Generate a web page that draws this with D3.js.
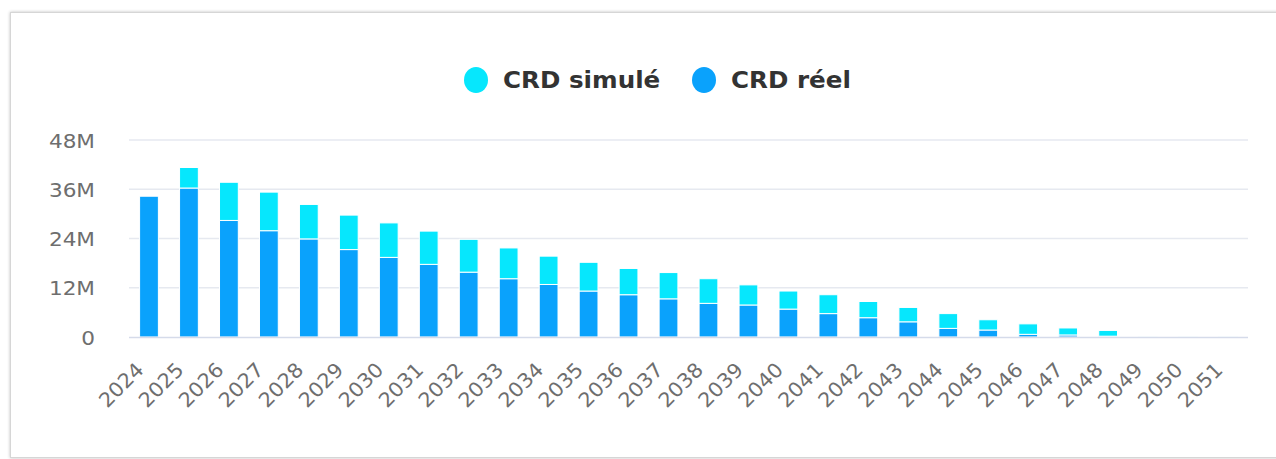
<!DOCTYPE html>
<html>
<head>
<meta charset="utf-8">
<script src="https://cdn.jsdelivr.net/npm/d3@7"></script>
<style>
  body { margin: 0; background: #fff; font-family: "DejaVu Sans", sans-serif; }
  .card { position: absolute; left: 10px; top: 12px; width: 1300px; height: 444px;
          border: 1px solid #d6d6d6; box-shadow: 0 0 3px rgba(0,0,0,0.25); background: #fff; }
  svg { position: absolute; left: 0; top: 0; }
</style>
</head>
<body>
<div class="card"></div>
<svg class="chart"></svg>
<script>
// values in millions
var years = ["2024","2025","2026","2027","2028","2029","2030","2031","2032","2033","2034","2035","2036","2037",
             "2038","2039","2040","2041","2042","2043","2044","2045","2046","2047","2048","2049","2050","2051"];
var crdReel =   [34.3, 36.3, 28.4, 25.9, 23.9, 21.3, 19.4, 17.7, 15.8, 14.2, 12.8, 11.2, 10.3, 9.3,
                 8.2, 7.8, 6.8, 5.7, 4.7, 3.7, 2.1, 1.7, 0.65, 0.5, 0.2, 0.05, 0.05, 0.05];
var crdSimule = [0, 5.0, 9.3, 9.4, 8.4, 8.4, 8.4, 8.1, 8.0, 7.5, 6.9, 7.0, 6.4, 6.4,
                 6.0, 4.9, 4.4, 4.6, 3.95, 3.5, 3.6, 2.5, 2.55, 1.7, 1.4, 0.05, 0.05, 0.05];
var yTicks = [0, 12, 24, 36, 48];
var seriesNames = ["CRD simulé", "CRD réel"];
var colors = ["#06e7fd", "#0aa2fc"];

var width = 1276, height = 459;
var plotLeft = 129, plotRight = 1248, plotTop = 140, plotBottom = 337;

var svg = d3.select(".chart").attr("width", width).attr("height", height);

var x = d3.scaleBand().domain(years).range([plotLeft, plotRight]).paddingInner(0.53).paddingOuter(0.265);
var y = d3.scaleLinear().domain([0, 48]).range([plotBottom, plotTop]);

// grid
svg.append("g").selectAll("line").data(yTicks.slice(1)).enter().append("line")
  .attr("x1", plotLeft).attr("x2", plotRight)
  .attr("y1", function(d) { return y(d); }).attr("y2", function(d) { return y(d); })
  .attr("stroke", "#e6e9f0").attr("stroke-width", 1.5);

// y axis labels
var yAxis = svg.append("g").attr("transform", "translate(" + (plotLeft - 34) + ",0)")
  .call(d3.axisLeft(y).tickValues(yTicks).tickSize(0).tickPadding(0)
    .tickFormat(function(d) { return d === 0 ? "0" : d + "M"; }));
yAxis.select(".domain").remove();
yAxis.selectAll("text").attr("fill", "#6e6e6e").style("font-size", "20px")
  .style("font-family", "DejaVu Sans").attr("dy", "0.36em")
  .attr("transform", "scale(1.08,1)");

// stacked bars
var rows = years.map(function(yr, i) { return { year: yr, reel: crdReel[i], simule: crdSimule[i] }; });
var stack = d3.stack().keys(["reel", "simule"])(rows);
var colorFor = { reel: colors[1], simule: colors[0] };

svg.append("g").selectAll("g").data(stack).enter().append("g")
  .attr("fill", function(s) { return colorFor[s.key]; })
  .selectAll("rect").data(function(s) { return s; }).enter().append("rect")
  .attr("x", function(d) { return x(d.data.year); })
  .attr("width", x.bandwidth())
  .attr("y", function(d) { return y(d[1]); })
  .attr("height", function(d) { return Math.max(0, y(d[0]) - y(d[1])); })
  .attr("stroke", "#fff").attr("stroke-width", 1);

// x axis
svg.append("line").attr("x1", plotLeft).attr("x2", plotRight).attr("y1", plotBottom + 0.5).attr("y2", plotBottom + 0.5)
  .attr("stroke", "#d5dbea").attr("stroke-width", 1.5);

svg.append("g").selectAll("text").data(years).enter().append("text")
  .attr("transform", function(d) {
    return "translate(" + (x(d) + x.bandwidth() / 2 - 9) + "," + (plotBottom + 29) + ") rotate(-45) scale(1.05,1)";
  })
  .attr("text-anchor", "end").attr("dy", "0.35em")
  .attr("fill", "#6e6e6e").style("font-size", "20px")
  .text(function(d) { return d; });

// legend
var legendX = [476, 704];
var lg = svg.append("g").selectAll("g").data(seriesNames).enter().append("g")
  .attr("transform", function(d, i) { return "translate(" + legendX[i] + ",80)"; });
lg.append("ellipse").attr("rx", 12).attr("ry", 13)
  .attr("fill", function(d, i) { return colors[i]; });
lg.append("text").attr("transform", "translate(27,0) scale(1.07,1)").attr("dy", "0.36em")
  .attr("fill", "#333").style("font-size", "23px").style("font-weight", "bold")
  .text(function(d) { return d; });
</script>
</body>
</html>
